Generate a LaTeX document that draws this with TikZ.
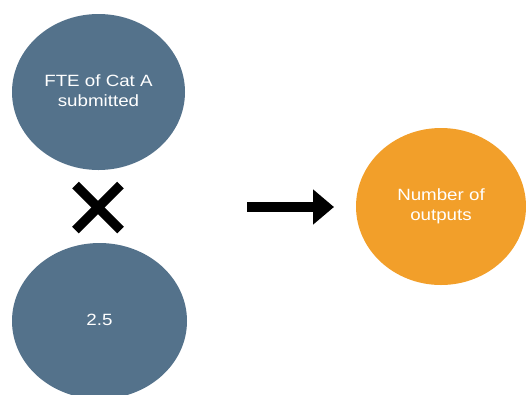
\documentclass[tikz,border=0pt]{standalone}
\usepackage{fontspec}
\setmainfont{Liberation Sans}
\usetikzlibrary{shapes.geometric,arrows.meta}
\definecolor{slate}{HTML}{54728B}
\definecolor{amber}{HTML}{F29F2A}
\newcommand{\wtxt}[1]{\scalebox{1.15}[1]{\begin{tabular}{@{}c@{}}#1\end{tabular}}}
\tikzset{
  bubble/.style={shape=ellipse, inner sep=0pt, text=white,
    font=\fontsize{16.3}{20}\selectfont},
  timesmark/.style={line width=9.5pt, black},
  bigarrow/.style={line width=10pt, black, -{Triangle[length=21pt,width=34pt]}}
}
\begin{document}
\begin{tikzpicture}[x=1pt,y=-1pt]
\useasboundingbox (0,0) rectangle (526,394);
\node[bubble, fill=slate, minimum width=173pt, minimum height=156pt] (fte) at (98.5,92) {\wtxt{FTE of Cat A\\submitted}};
\node[bubble, fill=slate, minimum width=175pt, minimum height=156pt] (mult) at (99.5,321) {\wtxt{2.5}};
\node[bubble, fill=amber, minimum width=170pt, minimum height=157pt] (out) at (441,206.5) {\wtxt{Number of\\outputs}};
\coordinate (xa) at (75.5,185);
\coordinate (xb) at (120.5,230);
\coordinate (xc) at (120.5,185);
\coordinate (xd) at (75.5,230);
\draw[timesmark] (xa) -- (xb);
\draw[timesmark] (xc) -- (xd);
\coordinate (as) at (247,207);
\coordinate (ae) at (334,207);
\draw[bigarrow] (as) -- (ae);
\end{tikzpicture}
\end{document}
